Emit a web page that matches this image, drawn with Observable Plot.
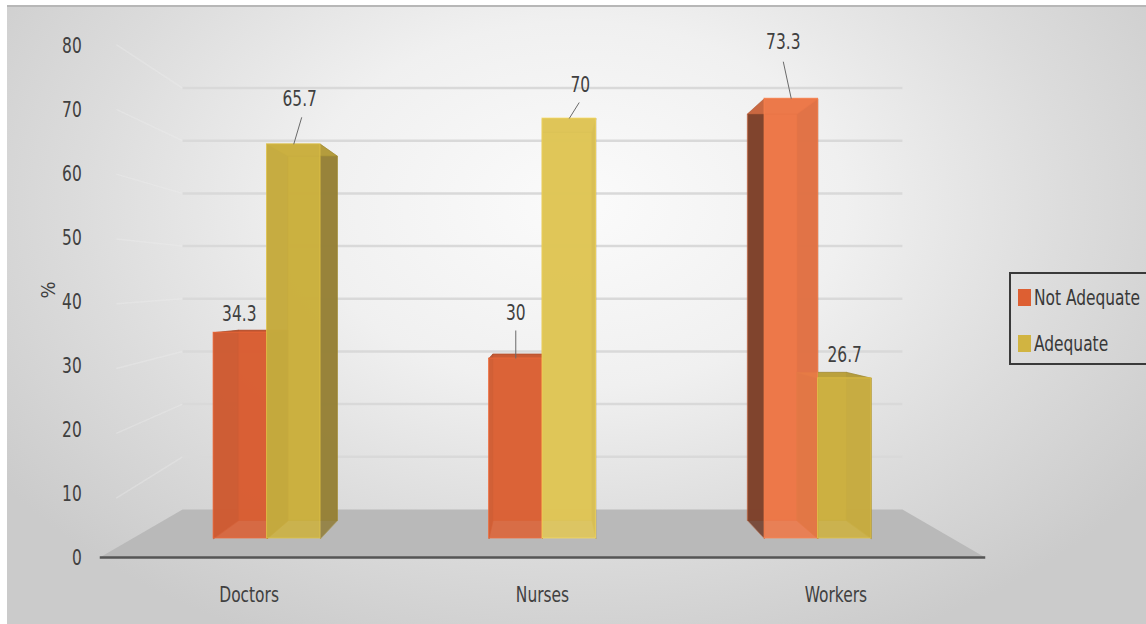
<!DOCTYPE html>
<html><head><meta charset="utf-8">
<script src="https://cdn.jsdelivr.net/npm/d3@7"></script>
<script src="https://cdn.jsdelivr.net/npm/@observablehq/plot@0.6"></script>
<style>
html,body{margin:0;padding:0;background:#fff;overflow:hidden;}
#wrap{position:relative;width:1146px;height:624px;font-family:"Liberation Sans Narrow","DejaVu Sans Condensed",sans-serif;overflow:hidden;}
#bg{position:absolute;left:7px;top:5px;width:1139px;height:619px;box-sizing:border-box;border-top:2px solid #b7b7b7;
 background:radial-gradient(ellipse 62% 78% at 50% 32%, #fbfbfb 0%, #f0f0f0 38%, #dcdcdc 70%, #cbcbcb 100%);}
#chart{position:absolute;left:0;top:0;}
#legend{position:absolute;left:1009px;top:272px;width:150px;height:93px;box-sizing:border-box;border:2px solid #3a3a3a;}
.item{position:absolute;left:7px;height:26px;display:flex;align-items:center;font-size:22px;color:#383838;white-space:nowrap;}
.sw{width:13px;height:17px;margin-right:3px;flex:none;}
.lt{display:inline-block;transform:scaleX(0.78);transform-origin:left center;}
</style></head><body>
<div id="wrap"><div id="bg"></div><div id="chart"></div><div id="legend"></div></div>
<script>
// ---- data ----
const groups = ["Doctors", "Nurses", "Workers"];
const seriesNames = ["Not Adequate", "Adequate"];
const notAdequate = [34.3, 30, 73.3];
const adequate = [65.7, 70, 26.7];
const yTicks = [0, 10, 20, 30, 40, 50, 60, 70, 80];

// ---- style / layout ----
const seriesColors = ["#dd5f32", "#d1b441"];
const frontFill = [["#d95f33", "#ccb13f"], ["#dc6236", "#e0c656"], ["#ee7848", "#cdb140"]];
const sideFill = ["#6e3a27", "#8f7b37"];
const labelLayout = [
  {dx: -1, dy: -19},
  {dx: 6, dy: -45, lead: [8, -27]},
  {dx: 0, dy: -46, lead: [0, -28]},
  {dx: 11, dy: -34, lead: [10, -16]},
  {dx: -8, dy: -57, lead: [-8, -37]},
  {dx: 0, dy: -23}
];
const XR = [266.5, 817.5], YR = [538, 58];
const KX = (XR[1] - XR[0]) / 2, KY = (YR[0] - YR[1]) / 80;
const BW = 0.194;              // bar width (group units)
const VX = 1, VY = 39.67;      // vanishing point (data units)
const S_BACK = 0.924, S_FLOOR_FRONT = 1.08, S_WALL = 0.878;
const FL = -0.488, FR = 2.488; // floor extent
const SQUEEZE = 0.78;
const proj = (x, v, s) => ({x: VX + (x - VX) * s, y: VY + (v - VY) * s});

// ---- geometry from data ----
const bars = [];
groups.forEach((g, i) => {
  [notAdequate[i], adequate[i]].forEach((v, j) => {
    const x0 = i + (j === 0 ? -BW : 0);
    bars.push({g, i, j, v, x0, x1: x0 + BW, series: seriesNames[j]});
  });
});
const polyRows = (id, pts, fill, stroke) => pts.map(p => ({id, x: p.x, y: p.y, fill, stroke}));
let backRows = [], sideRows = [];
bars.forEach((b, k) => {
  const f = frontFill[b.i][b.j];
  const edge = d3.rgb(f).darker(0.7).formatHex();
  backRows = backRows.concat(polyRows("b" + k, [proj(b.x0, 0, S_BACK), proj(b.x1, 0, S_BACK), proj(b.x1, b.v, S_BACK), proj(b.x0, b.v, S_BACK)], d3.rgb(f).darker(0.15).formatHex(), edge));
  const sf = sideFill[b.j];
  sideRows = sideRows.concat(polyRows("l" + k, [proj(b.x0, 0, 1), proj(b.x0, b.v, 1), proj(b.x0, b.v, S_BACK), proj(b.x0, 0, S_BACK)], sf, edge));
  sideRows = sideRows.concat(polyRows("r" + k, [proj(b.x1, 0, 1), proj(b.x1, b.v, 1), proj(b.x1, b.v, S_BACK), proj(b.x1, 0, S_BACK)], sf, edge));
  sideRows = sideRows.concat(polyRows("t" + k, [proj(b.x0, b.v, 1), proj(b.x1, b.v, 1), proj(b.x1, b.v, S_BACK), proj(b.x0, b.v, S_BACK)], d3.rgb(f).darker(0.3).formatHex(), edge));
});
const floorRows = polyRows("floor", [proj(FL, 0, S_FLOOR_FRONT), proj(FR, 0, S_FLOOR_FRONT), proj(FR, 0, S_WALL), proj(FL, 0, S_WALL)], "#b9b9b9", "none");

const marks = [
  Plot.line(floorRows, {x: "x", y: "y", z: "id", curve: "linear-closed", fill: "fill", stroke: "stroke"}),
  Plot.link(yTicks.filter(v => v > 0), {
    x1: () => proj(FL, 0, S_FLOOR_FRONT).x + 0.06, y1: v => proj(FL, v, S_FLOOR_FRONT).y - 0.9,
    x2: () => proj(FL, 0, S_WALL).x, y2: v => proj(FL, v, S_WALL).y,
    stroke: "#ededed", strokeOpacity: 0.35, strokeWidth: 1.5
  }),
  Plot.link(yTicks.filter(v => v > 0), {
    x1: () => proj(FL, 0, S_WALL).x, y1: v => proj(FL, v, S_WALL).y,
    x2: () => proj(FR, 0, S_WALL).x, y2: v => proj(FR, v, S_WALL).y,
    stroke: "#d9d9d9", strokeWidth: 2.5
  }),
  Plot.link([0], {
    x1: () => proj(FL, 0, S_FLOOR_FRONT).x, y1: () => proj(FL, 0, S_FLOOR_FRONT).y,
    x2: () => proj(FR, 0, S_FLOOR_FRONT).x, y2: () => proj(FR, 0, S_FLOOR_FRONT).y,
    stroke: "#555", strokeWidth: 2.5
  }),
  Plot.line(backRows, {x: "x", y: "y", z: "id", curve: "linear-closed", fill: "fill", stroke: "stroke", fillOpacity: 0.9, strokeOpacity: 0.5, strokeWidth: 1}),
  Plot.line(sideRows, {x: "x", y: "y", z: "id", curve: "linear-closed", fill: "fill", stroke: "stroke", fillOpacity: 0.85, strokeOpacity: 0.5, strokeWidth: 1}),
  Plot.rect(bars, {x1: "x0", x2: "x1", y1: 0, y2: "v", fill: b => frontFill[b.i][b.j], fillOpacity: 0.88,
    stroke: b => d3.rgb(frontFill[b.i][b.j]).brighter(0.3).formatHex(), strokeWidth: 1, strokeOpacity: 0.7}),
  // y tick labels (front plane)
  Plot.text(yTicks, {x: () => proj(FL, 0, S_FLOOR_FRONT).x, y: v => v * 1.0667 - 3.17, text: v => String(v),
    textAnchor: "end", dx: -18, fontSize: 22, fill: "#404040"}),
  // category labels
  Plot.text(groups, {x: (d, i) => VX + (i - VX) * 1.065, y: () => (YR[0] - 594) / KY, text: d => d,
    fontSize: 22, fill: "#404040"}),
  Plot.text(["%"], {frameAnchor: "left", dx: 48, dy: -14, rotate: -90, text: d => d, fontSize: 20, fill: "#404040"})
];
bars.forEach((b, k) => {
  const L = labelLayout[k];
  const cx = (b.x0 + b.x1) / 2;
  if (L.lead) marks.push(Plot.link([b], {x1: () => cx, y1: "v", x2: () => cx + L.lead[0] / KX, y2: d => d.v - L.lead[1] / KY,
    stroke: "#6a6a6a", strokeWidth: 1}));
  marks.push(Plot.text([b], {x: () => cx, y: "v", text: d => String(d.v), dx: L.dx, dy: L.dy, lineAnchor: "middle",
    fontSize: 22, fill: "#404040"}));
});

const chart = Plot.plot({
  width: 1146, height: 624, margin: 0,
  x: {domain: [0, 2], range: XR, axis: null},
  y: {domain: [0, 80], range: YR, axis: null},
  color: {type: "identity"},
  style: {background: "transparent", fontFamily: '"Liberation Sans Narrow","DejaVu Sans Condensed",sans-serif', overflow: "visible"},
  marks
});
document.getElementById("chart").appendChild(chart);
// narrow the glyphs horizontally to match the condensed face of the original
chart.querySelectorAll("text").forEach(t => {
  if (t.textContent === "%") return;
  const L = t.getComputedTextLength();
  if (L > 0) {
    t.setAttribute("textLength", (L * SQUEEZE).toFixed(2));
    t.setAttribute("lengthAdjust", "spacingAndGlyphs");
  }
});

// legend
const legend = document.getElementById("legend");
seriesNames.forEach((s, j) => {
  const it = document.createElement("div");
  it.className = "item";
  it.style.top = (j === 0 ? 10 : 56) + "px";
  const sw = document.createElement("div");
  sw.className = "sw"; sw.style.background = seriesColors[j];
  const t = document.createElement("span"); t.className = "lt"; t.textContent = s;
  it.appendChild(sw); it.appendChild(t);
  legend.appendChild(it);
});
</script>
</body></html>
